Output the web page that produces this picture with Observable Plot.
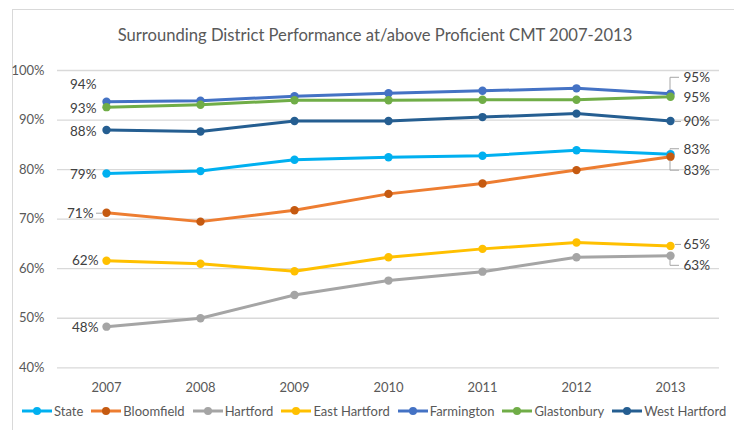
<!DOCTYPE html>
<html><head><meta charset="utf-8">
<script src="https://cdn.jsdelivr.net/npm/d3@7"></script>
<script src="https://cdn.jsdelivr.net/npm/@observablehq/plot@0.6"></script>
<style>
body{margin:0;background:#fff;overflow:hidden}
#wrap{position:relative;width:734px;height:430px;overflow:hidden;font-family:Lato,"Liberation Sans",sans-serif}
#frame{position:absolute;left:12px;top:9px;width:740px;height:440px;border-left:1px solid #d9d9d9;border-top:1px solid #d9d9d9}
#title{position:absolute;top:23px;left:0;width:750px;text-align:center;font-size:16.6px;color:#595959;line-height:24px}
#chart{position:absolute;top:55px;left:0}
#legend{position:absolute;top:402px;left:22px;display:flex;white-space:nowrap;font-size:13px;color:#595959;line-height:18px}
.item{display:flex;align-items:center;margin-right:8px}
.item svg{margin-right:2px}
</style></head>
<body><div id="wrap"><div id="frame"></div><div id="title"></div><div id="chart"></div><div id="legend"></div></div>
<script>
const title = "Surrounding District Performance at/above Proficient CMT 2007-2013";
const years = [2007, 2008, 2009, 2010, 2011, 2012, 2013];
const seriesNames = ["State", "Bloomfield", "Hartford", "East Hartford", "Farmington", "Glastonbury", "West Hartford"];
const state        = [79.2, 79.7, 82.0, 82.5, 82.8, 83.9, 83.1];
const bloomfield   = [71.3, 69.5, 71.8, 75.1, 77.2, 79.9, 82.6];
const hartford     = [48.3, 50.0, 54.7, 57.6, 59.4, 62.3, 62.6];
const eastHartford = [61.6, 61.0, 59.5, 62.3, 64.0, 65.3, 64.6];
const farmington   = [93.7, 93.9, 94.8, 95.4, 95.9, 96.4, 95.3];
const glastonbury  = [92.6, 93.1, 94.0, 94.0, 94.1, 94.1, 94.7];
const westHartford = [88.0, 87.7, 89.8, 89.8, 90.6, 91.3, 89.8];
const yTicks = [40, 50, 60, 70, 80, 90, 100];

const seriesValues = [state, bloomfield, hartford, eastHartford, farmington, glastonbury, westHartford];
const lineColors = ["#00B0F0", "#ED7D31", "#A5A5A5", "#FFC000", "#4472C4", "#70AD47", "#255E91"];
const dotColors  = ["#00B0F0", "#C55A11", "#A5A5A5", "#FFC000", "#4472C4", "#70AD47", "#255E91"];

const rows = seriesNames.map((s, i) => years.map((yr, j) => ({series: s, year: yr, value: seriesValues[i][j]})));

// label placement (pixel offsets) for first and last year
const firstCfg = {
  "State": {dx: -10, dy: 1}, "Bloomfield": {dx: -13, dy: 1, lead: "h"}, "Hartford": {dx: -8, dy: 1},
  "East Hartford": {dx: -8, dy: 0}, "Farmington": {dx: -10, dy: -17}, "Glastonbury": {dx: -10, dy: 2},
  "West Hartford": {dx: -10, dy: 2}
};
const lastCfg = {
  "State": {dx: 13, dy: -5, lead: "v"}, "Bloomfield": {dx: 13, dy: 14, lead: "v"}, "Hartford": {dx: 13, dy: 10, lead: "v"},
  "East Hartford": {dx: 13, dy: -1, lead: "h"}, "Farmington": {dx: 13, dy: -16, lead: "v"}, "Glastonbury": {dx: 13, dy: 1},
  "West Hartford": {dx: 13, dy: 1, lead: "h"}
};

const font = 'Lato,"Liberation Sans",sans-serif';

const marks = [
  Plot.gridY(yTicks, {stroke: "#d9d9d9", strokeOpacity: 1, strokeWidth: 1.3}),
  Plot.axisY(yTicks, {tickSize: 0, tickPadding: 13, tickFormat: d => d + "%", fill: "#595959", fontSize: 13, label: null}),
  Plot.axisX(years, {tickSize: 0, tickPadding: 15, tickFormat: d => `${d}`, fill: "#595959", fontSize: 13, label: null})
];
rows.forEach((r, i) => {
  marks.push(Plot.line(r, {x: "year", y: "value", stroke: lineColors[i], strokeWidth: 3}));
  marks.push(Plot.dot(r, {x: "year", y: "value", fill: dotColors[i], r: 4.2}));
});
// leader lines
marks.push((index, scales) => {
  const g = d3.create("svg:g").attr("stroke", "#a6a6a6").attr("fill", "none").attr("stroke-width", 1);
  const add = (cfg, yr, j, side) => {
    seriesNames.forEach((s, i) => {
      const c = cfg[s];
      if (!c.lead) return;
      const px = scales.x(yr), py = scales.y(seriesValues[i][j]);
      const ly = py + c.dy;
      if (c.lead === "v") {
        g.append("path").attr("d", `M${px},${py + Math.sign(c.dy) * 4}V${ly}H${px + 9}`);
      } else if (side > 0) {
        g.append("path").attr("d", `M${px + 5},${ly}H${px + 11}`);
      } else {
        g.append("path").attr("d", `M${px - 10},${ly}H${px - 4}`);
      }
    });
  };
  add(firstCfg, years[0], 0, -1);
  add(lastCfg, years[years.length - 1], years.length - 1, 1);
  return g.node();
});
seriesNames.forEach((s, i) => {
  const c0 = firstCfg[s], c1 = lastCfg[s];
  marks.push(Plot.text([{year: years[0], value: seriesValues[i][0]}], {x: "year", y: "value", text: d => Math.round(d.value) + "%", textAnchor: "end", dx: c0.dx, dy: c0.dy, fill: "#404040", fontSize: 13.5}));
  marks.push(Plot.text([{year: years[6], value: seriesValues[i][6]}], {x: "year", y: "value", text: d => Math.round(d.value) + "%", textAnchor: "start", dx: c1.dx, dy: c1.dy, fill: "#404040", fontSize: 13.5}));
});

const chart = Plot.plot({
  width: 734, height: 345,
  marginLeft: 57, marginRight: 15, marginTop: 15, marginBottom: 32.7,
  style: {fontFamily: font, fontSize: "13px", background: "transparent", overflow: "visible"},
  x: {type: "point", domain: years, padding: 0.5, axis: null},
  y: {domain: [40, 100], axis: null},
  marks
});
document.getElementById("chart").appendChild(chart);
document.getElementById("title").textContent = title;

const legend = d3.select("#legend");
seriesNames.forEach((s, i) => {
  const it = legend.append("div").attr("class", "item");
  const sv = it.append("svg").attr("width", 30).attr("height", 10);
  sv.append("line").attr("x1", 0).attr("x2", 30).attr("y1", 5).attr("y2", 5).attr("stroke", lineColors[i]).attr("stroke-width", 3);
  sv.append("circle").attr("cx", 15).attr("cy", 5).attr("r", 4).attr("fill", dotColors[i]);
  it.append("span").text(s);
});
</script></body></html>
